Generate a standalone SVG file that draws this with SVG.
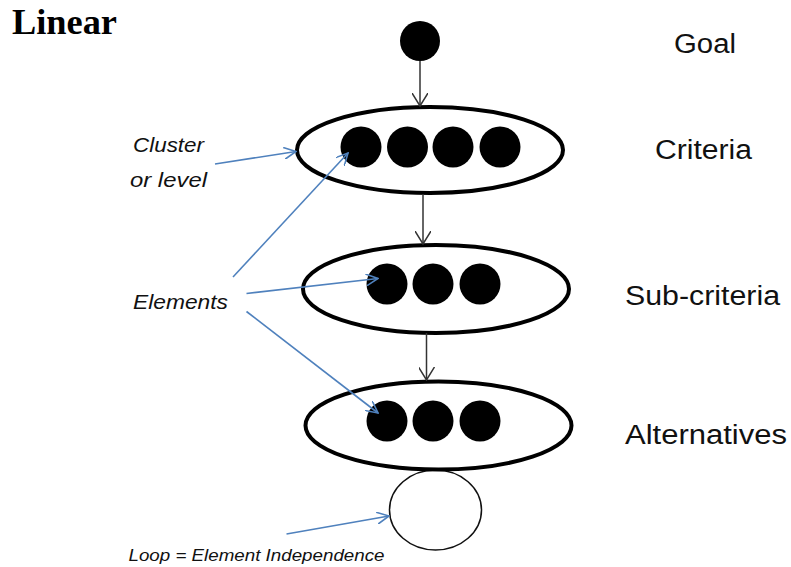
<svg xmlns="http://www.w3.org/2000/svg" width="791" height="567" viewBox="0 0 791 567">
<style>
.cluster{fill:#fff;stroke:#000;stroke-width:4}
.dot{fill:#000}
.loop{fill:none;stroke:#111;stroke-width:1.5}
.lvl{font-family:"Liberation Sans",Arial,sans-serif;font-size:27px;fill:#111}
.note{font-family:"Liberation Sans",Arial,sans-serif;font-style:italic;font-size:20px;fill:#111}
.small{font-size:16px}
.title{font-family:"Liberation Serif","Times New Roman",serif;font-weight:bold;font-size:36px;fill:#000}
.blk{stroke:#333;stroke-width:1.5;fill:none}
.blu{stroke:#4f81bd;stroke-width:1.6;fill:none}
</style>
<defs>
<marker id="hb" viewBox="0 0 14 16" refX="13" refY="8" markerWidth="14" markerHeight="16" markerUnits="userSpaceOnUse" orient="auto">
<path d="M0,0 L13,8 L0,16" fill="none" stroke="#333" stroke-width="1.5"/>
</marker>
<marker id="hu" viewBox="0 0 13 12" refX="12" refY="6" markerWidth="13" markerHeight="12" markerUnits="userSpaceOnUse" orient="auto">
<path d="M0,0 L12,6 L0,12" fill="none" stroke="#4f81bd" stroke-width="1.6"/>
</marker>
</defs>
<text class="title" x="12" y="34" textLength="105" lengthAdjust="spacingAndGlyphs">Linear</text>
<g id="goal">
<circle class="dot" cx="420" cy="41" r="20"/>
<text class="lvl" x="674" y="52.5" textLength="62" lengthAdjust="spacingAndGlyphs">Goal</text>
</g>
<g id="criteria">
<ellipse class="cluster" cx="430" cy="150" rx="133" ry="43"/>
<circle class="dot" cx="361" cy="147" r="20.5"/>
<circle class="dot" cx="407.5" cy="147" r="20.5"/>
<circle class="dot" cx="453" cy="147" r="20.5"/>
<circle class="dot" cx="500" cy="147" r="20.5"/>
<text class="lvl" x="655" y="158.5" textLength="97" lengthAdjust="spacingAndGlyphs">Criteria</text>
</g>
<g id="subcriteria">
<ellipse class="cluster" cx="436" cy="289" rx="133" ry="44"/>
<circle class="dot" cx="387" cy="284" r="20.5"/>
<circle class="dot" cx="433" cy="284" r="20.5"/>
<circle class="dot" cx="480" cy="284" r="20.5"/>
<text class="lvl" x="625" y="305" textLength="155" lengthAdjust="spacingAndGlyphs">Sub-criteria</text>
</g>
<g id="loop">
<ellipse class="loop" cx="435.5" cy="510" rx="46" ry="40"/>
</g>
<g id="alternatives">
<ellipse class="cluster" cx="438.5" cy="425.5" rx="133" ry="44"/>
<circle class="dot" cx="387" cy="421" r="20.5"/>
<circle class="dot" cx="433" cy="421" r="20.5"/>
<circle class="dot" cx="480" cy="421" r="20.5"/>
<text class="lvl" x="625" y="443.5" textLength="162" lengthAdjust="spacingAndGlyphs">Alternatives</text>
</g>
<g id="labels">
<text class="note" x="133" y="151.5" textLength="71" lengthAdjust="spacingAndGlyphs">Cluster</text>
<text class="note" x="130" y="186.5" textLength="77" lengthAdjust="spacingAndGlyphs">or level</text>
<text class="note" x="133" y="309" textLength="95" lengthAdjust="spacingAndGlyphs">Elements</text>
<text class="note small" x="128.5" y="560.5" textLength="256" lengthAdjust="spacingAndGlyphs">Loop = Element  Independence</text>
</g>
<g id="connectors">
<line class="blk" x1="420" y1="61" x2="420" y2="106" marker-end="url(#hb)"/>
<line class="blk" x1="423" y1="194" x2="423" y2="244" marker-end="url(#hb)"/>
<line class="blk" x1="426.5" y1="333" x2="426.5" y2="380" marker-end="url(#hb)"/>
<line class="blu" x1="215" y1="164" x2="296" y2="151.5" marker-end="url(#hu)"/>
<line class="blu" x1="233" y1="277" x2="348" y2="153" marker-end="url(#hu)"/>
<line class="blu" x1="246.5" y1="293.5" x2="378" y2="278.5" marker-end="url(#hu)"/>
<line class="blu" x1="246.5" y1="311.5" x2="378" y2="413" marker-end="url(#hu)"/>
<line class="blu" x1="286.5" y1="534" x2="389" y2="516" marker-end="url(#hu)"/>
</g>
</svg>
